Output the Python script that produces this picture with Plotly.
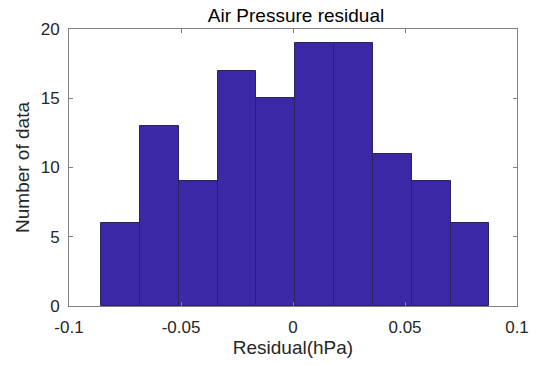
import plotly.graph_objects as go

# Histogram of air pressure residuals
bin_edges = [-0.0858, -0.0684, -0.0511, -0.0337, -0.0164, 0.0010,
             0.0183, 0.0357, 0.0530, 0.0704, 0.0877]
counts = [6, 13, 9, 17, 15, 19, 19, 11, 9, 6]

x_ticks = [-0.1, -0.05, 0, 0.05, 0.1]
x_tick_labels = ["-0.1", "-0.05", "0", "0.05", "0.1"]
y_ticks = [0, 5, 10, 15, 20]

centers = [(a + b) / 2 for a, b in zip(bin_edges[:-1], bin_edges[1:])]
widths = [b - a for a, b in zip(bin_edges[:-1], bin_edges[1:])]

font_family = "Liberation Sans, Arial, sans-serif"
axis_color = "#808080"
text_color = "#262626"

fig = go.Figure(
    go.Bar(
        x=centers,
        y=counts,
        width=widths,
        marker=dict(color="#3a28a6", line=dict(color="#2b2458", width=1)),
    )
)

axis_common = dict(
    showgrid=False,
    zeroline=False,
    showline=True,
    linecolor=axis_color,
    linewidth=1,
    mirror="ticks",
    ticks="inside",
    ticklen=4,
    tickcolor=axis_color,
    tickfont=dict(family=font_family, size=17, color=text_color),
)

fig.update_xaxes(
    range=[-0.1, 0.1],
    tickvals=x_ticks,
    ticktext=x_tick_labels,
    ticklabelstandoff=6,
    title=dict(text="Residual(hPa)", font=dict(family=font_family, size=19, color=text_color), standoff=2),
    **axis_common,
)
fig.update_yaxes(
    range=[0, 20],
    tickvals=y_ticks,
    ticklabelstandoff=5,
    title=dict(text="Number of data", font=dict(family=font_family, size=19, color=text_color), standoff=6),
    **axis_common,
)

fig.update_layout(
    width=541,
    height=365,
    margin=dict(l=69, r=19, t=29, b=56),
    paper_bgcolor="white",
    plot_bgcolor="white",
    showlegend=False,
    bargap=0,
    title=dict(
        text="Air Pressure residual",
        x=296 / 541,
        xanchor="center",
        y=1 - 15 / 365,
        yanchor="middle",
        font=dict(family=font_family, size=19, color="#000000"),
    ),
)

fig.write_html("out.html")
